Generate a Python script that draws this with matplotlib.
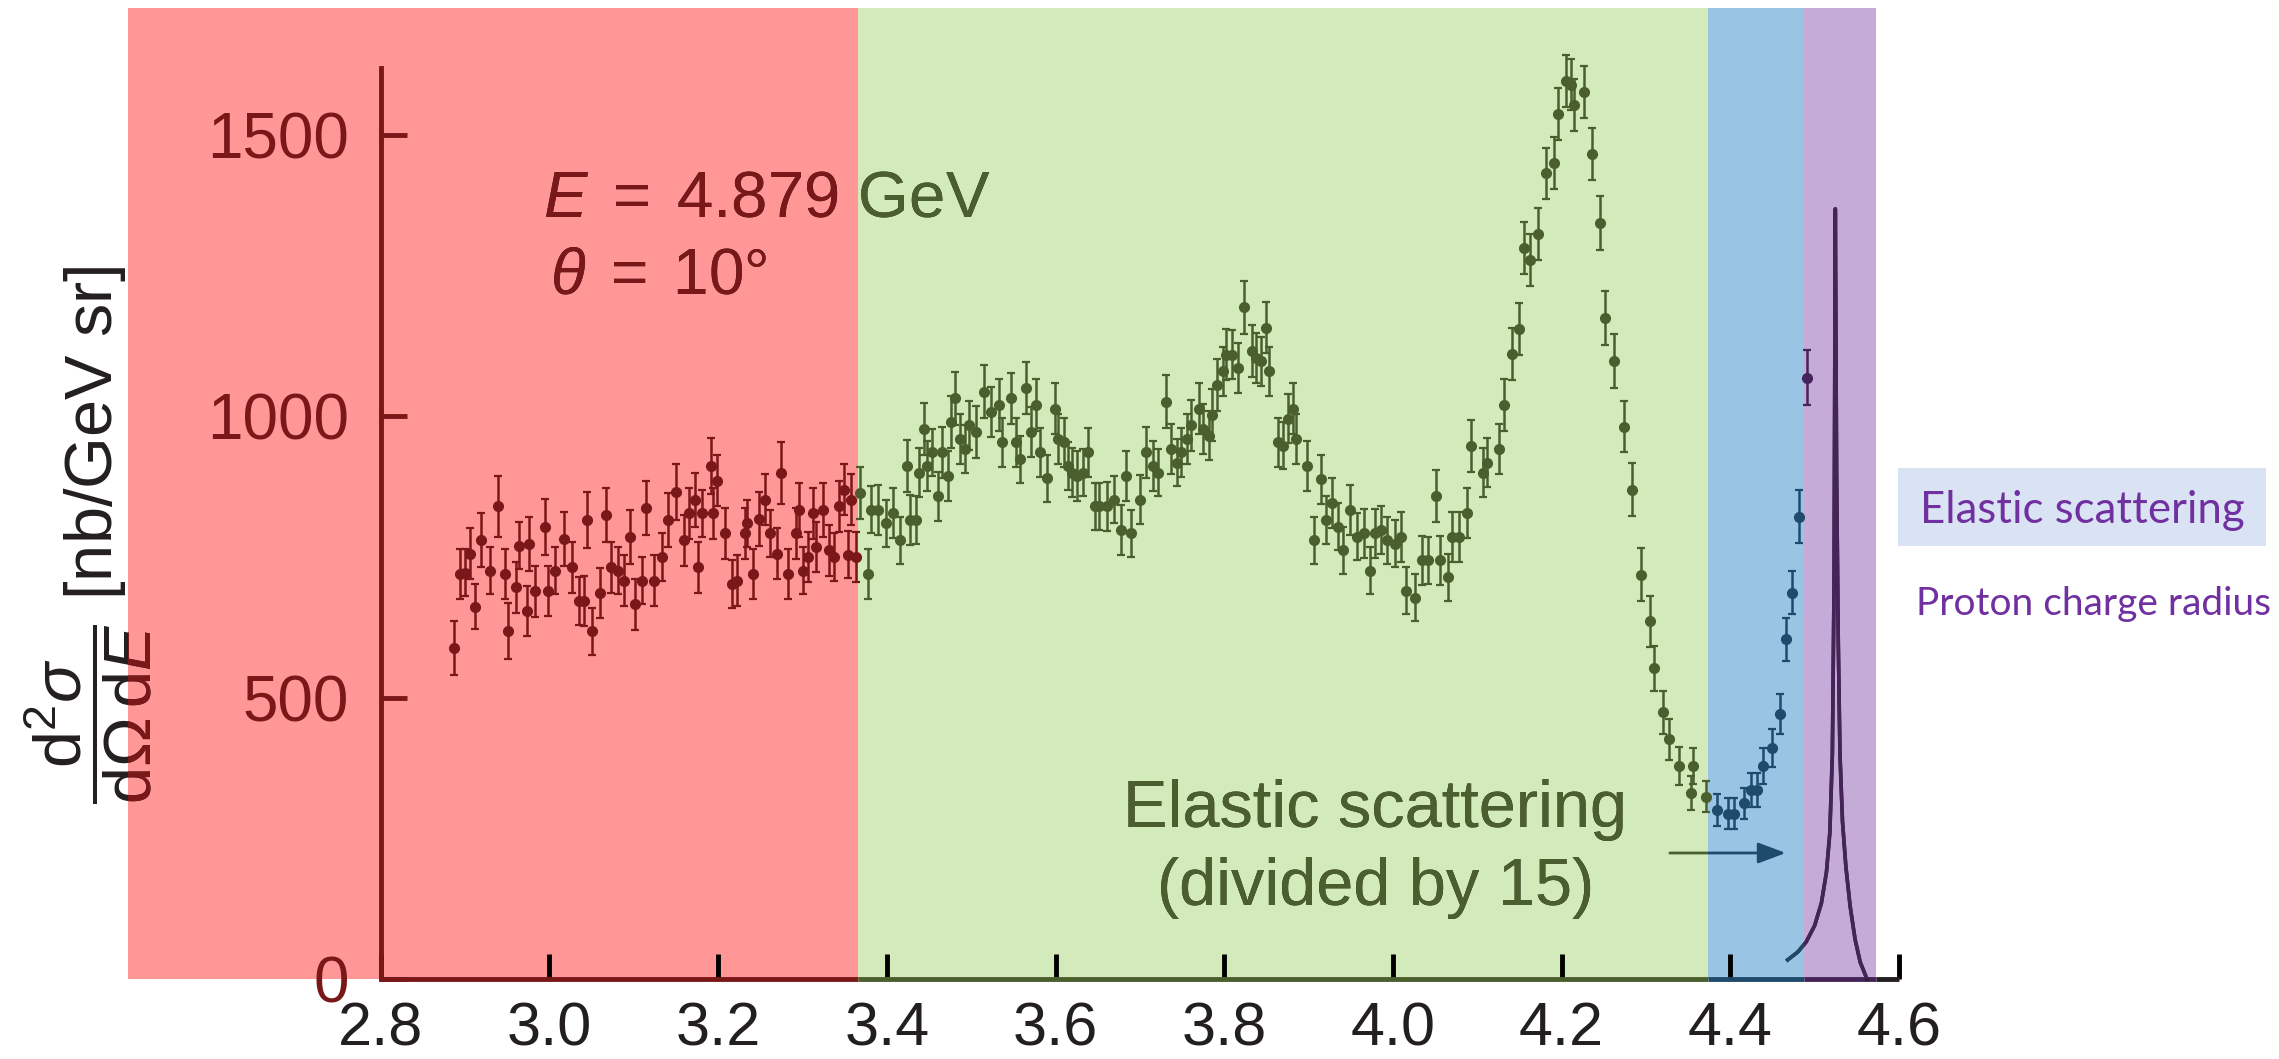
import numpy as np
import matplotlib.pyplot as plt
from matplotlib.patches import Rectangle, FancyArrowPatch

plt.rcParams['font.family'] = ['Liberation Sans', 'DejaVu Sans']
plt.rcParams['mathtext.fontset'] = 'custom'
plt.rcParams['mathtext.rm'] = 'Liberation Sans'
plt.rcParams['mathtext.it'] = 'Liberation Sans:italic'
plt.rcParams['mathtext.bf'] = 'Liberation Sans:bold'

# scattered electron energy E' (GeV) and cross-section with errors
energy = [
    2.887, 2.894, 2.900, 2.906, 2.912, 2.919, 2.930, 2.939, 2.947, 2.951, 2.960, 2.964,
    2.973, 2.976, 2.983, 2.995, 2.998, 3.007, 3.017, 3.027, 3.035, 3.041, 3.045, 3.050,
    3.060, 3.067, 3.073, 3.081, 3.088, 3.095, 3.101, 3.110, 3.114, 3.124, 3.134, 3.141,
    3.150, 3.159, 3.166, 3.173, 3.176, 3.181, 3.191, 3.194, 3.199, 3.208, 3.216, 3.222,
    3.232, 3.234, 3.241, 3.249, 3.255, 3.261, 3.270, 3.274, 3.283, 3.292, 3.296, 3.300,
    3.306, 3.312, 3.316, 3.324, 3.332, 3.337, 3.343, 3.349, 3.354, 3.357, 3.363,
    3.368, 3.378, 3.381, 3.390, 3.399, 3.407, 3.415, 3.424, 3.427, 3.434, 3.438, 3.444,
    3.448, 3.453, 3.461, 3.465, 3.472, 3.476, 3.481, 3.487, 3.493, 3.497, 3.506, 3.515,
    3.523, 3.533, 3.536, 3.547, 3.553, 3.558, 3.565, 3.571, 3.577, 3.581, 3.590, 3.599,
    3.603, 3.610, 3.615, 3.620, 3.626, 3.632, 3.639, 3.647, 3.652, 3.661, 3.669, 3.678,
    3.683, 3.690, 3.700, 3.707, 3.715, 3.722, 3.731, 3.737, 3.744, 3.749, 3.756, 3.761,
    3.770, 3.775, 3.782, 3.785, 3.792, 3.799, 3.802, 3.809, 3.816, 3.823, 3.833, 3.838,
    3.843, 3.849, 3.853, 3.864, 3.870, 3.876, 3.881, 3.885, 3.898, 3.906, 3.915, 3.921,
    3.928, 3.935, 3.941, 3.949, 3.958, 3.966, 3.973, 3.979, 3.986, 3.993, 4.003, 4.010,
    4.015, 4.026, 4.034, 4.041, 4.051, 4.056, 4.065, 4.070, 4.078, 4.088, 4.092, 4.107,
    4.112, 4.126, 4.132, 4.141, 4.150, 4.155, 4.163, 4.172, 4.182, 4.191, 4.196, 4.205,
    4.211, 4.215, 4.226, 4.236, 4.245, 4.252, 4.262, 4.274, 4.284, 4.294, 4.305, 4.310,
    4.320, 4.327, 4.339, 4.353, 4.356, 4.371, 4.384, 4.397, 4.404, 4.416, 4.425, 4.432,
    4.439, 4.449, 4.459, 4.466, 4.473, 4.482, 4.491,
]
xsec = [
    588, 720, 722, 756, 662, 780, 726, 840, 720, 618, 696, 770,
    654, 774, 689, 804, 690, 726, 782, 732, 672, 672, 816, 618,
    686, 824, 732, 726, 708, 786, 666, 708, 838, 708, 750, 816,
    866, 780, 828, 852, 732, 828, 912, 828, 886, 792, 702, 708,
    792, 810, 720, 818, 852, 792, 756, 900, 720, 792, 834, 726,
    750, 828, 768, 834, 762, 750, 840, 870, 754, 852, 750,
    864, 720, 834, 834, 810, 828, 780, 912, 816, 816, 900, 978,
    912, 936, 858, 936, 894, 990, 1032, 960, 942, 984, 972, 1044,
    1008, 1020, 954, 1032, 954, 924, 1050, 972, 1020, 936, 890, 1014,
    960, 954, 912, 900, 894, 900, 936, 840, 840, 840, 852, 798,
    894, 792, 852, 936, 912, 900, 1026, 942, 918, 936, 960, 984,
    1014, 978, 966, 1002, 1056, 1080, 1110, 1110, 1086, 1194, 1116, 1104,
    1098, 1158, 1080, 954, 948, 996, 1014, 960, 912, 780, 888, 816,
    846, 804, 762, 834, 786, 792, 726, 792, 798, 780, 774, 786,
    690, 678, 744, 744, 858, 744, 714, 786, 786, 828, 948, 900,
    918, 942, 1020, 1111, 1155, 1300, 1278, 1324, 1432, 1450, 1538, 1596,
    1590, 1553, 1577, 1466, 1344, 1175, 1098, 982, 870, 719, 636, 552,
    474, 426, 378, 330, 378, 324, 300, 294, 294, 312, 336, 336,
    378, 411, 471, 604, 687, 822, 1069,
]
xsec_err = [
    48, 45, 42, 45, 40, 48, 42, 55, 45, 50, 45, 42,
    45, 48, 45, 50, 45, 42, 48, 45, 42, 45, 50, 42,
    45, 48, 45, 42, 45, 48, 45, 42, 48, 45, 42, 48,
    50, 45, 45, 48, 45, 42, 50, 45, 45, 45, 42, 45,
    45, 42, 45, 48, 45, 42, 45, 55, 45, 45, 48, 42,
    45, 45, 45, 48, 45, 42, 45, 45, 42, 45, 45,
    46, 44, 42, 44, 42, 44, 42, 46, 44, 42, 44, 46,
    44, 42, 44, 46, 44, 46, 47, 44, 42, 44, 46, 47,
    44, 46, 44, 46, 44, 42, 46, 44, 46, 44, 42, 46,
    44, 44, 42, 44, 44, 42, 44, 42, 42, 44, 42, 44,
    44, 42, 44, 46, 44, 42, 47, 44, 42, 44, 44, 46,
    46, 44, 44, 46, 46, 44, 46, 44, 44, 47, 46, 44,
    44, 46, 44, 44, 42, 44, 46, 44, 44, 42, 44, 42,
    44, 42, 42, 44, 42, 44, 42, 44, 42, 42, 42, 44,
    42, 42, 44, 42, 46, 44, 42, 44, 44, 44, 46, 44,
    44, 44, 46, 46, 46, 46, 46, 46, 46, 46, 46, 46,
    46, 46, 46, 46, 48, 48, 48, 46, 47, 47, 45, 40,
    38, 36, 34, 30, 32, 28, 28, 28, 28, 28, 30, 30,
    32, 34, 36, 38, 39, 47, 49,
]

# elastic peak (divided by 15)
peak_e = [4.468, 4.480, 4.490, 4.500, 4.508, 4.514, 4.518, 4.521, 4.523, 4.5245,
          4.526, 4.528, 4.530, 4.533, 4.537, 4.542, 4.548, 4.554, 4.562]
peak_y = [34, 48, 66, 95, 135, 190, 260, 400, 700, 1369,
          900, 600, 400, 280, 200, 130, 70, 30, 0]

# shaded regions: deep inelastic / resonances / quasi-elastic tail / elastic
band_edges = [2.5, 3.366, 4.374, 4.487, 4.573]
band_fill = ['#ff9797', '#d3eabb', '#9ac4e4', '#c5abd8']
band_ink = ['#7a1719', '#4b5f2e', '#1e4a6c', '#45245a']
base_ink = '#231f20'

arrow_e = (4.325, 4.469)
arrow_y = 224

x_ticks = [2.8, 3.0, 3.2, 3.4, 3.6, 3.8, 4.0, 4.2, 4.4, 4.6]
y_ticks = [0, 500, 1000, 1500]
y_top = 1726

energy = np.array(energy)
xsec = np.array(xsec)
xsec_err = np.array(xsec_err)

fig = plt.figure(figsize=(22.79, 10.59), dpi=100)
ax = fig.add_axes([0.05605, 0.07554, 0.77721, 0.91690])
ax.set_xlim(2.5, 4.6)
ax.set_ylim(0, y_top)
ax.patch.set_visible(False)


def band_rect(i):
    return Rectangle((band_edges[i], 0), band_edges[i + 1] - band_edges[i], y_top,
                     transform=ax.transData)


def band_of(x):
    i = np.searchsorted(band_edges, x, side='right') - 1
    return i if 0 <= i < len(band_fill) else None


def ink_text(x, y, s, **kw):
    # plain dark text, then tinted copies clipped to each coloured band
    ax.text(x, y, s, color=base_ink, **kw)
    for i, ink in enumerate(band_ink):
        t = ax.text(x, y, s, color=ink, **kw)
        t.set_clip_path(band_rect(i))
        t.set_clip_on(True)


for i, fill in enumerate(band_fill):
    ax.axvspan(band_edges[i], band_edges[i + 1], color=fill, lw=0, zorder=0)

# data points, tinted by the band they sit in
idx = np.array([band_of(e) for e in energy])
for i, ink in enumerate(band_ink):
    m = idx == i
    ax.errorbar(energy[m], xsec[m], yerr=xsec_err[m], fmt='o', ms=7, color=ink,
                ecolor=ink, elinewidth=1.8, capsize=2.8, capthick=1.6, zorder=3)

# elastic peak curve
base = ax.plot(peak_e, peak_y, color=base_ink, lw=2.6, zorder=3)[0]
base.set_clip_on(False)
for i, ink in enumerate(band_ink):
    ln = ax.plot(peak_e, peak_y, color=ink, lw=2.6, zorder=3)[0]
    ln.set_clip_path(band_rect(i))

# arrow pointing to the elastic peak
for i, ink in enumerate(band_ink):
    arr = FancyArrowPatch((arrow_e[0], arrow_y), (arrow_e[1], arrow_y),
                          arrowstyle='-|>,head_length=0.85,head_width=0.32',
                          mutation_scale=20, color=ink, lw=2.0, zorder=3)
    ax.add_patch(arr)
    arr.set_clip_path(band_rect(i))

# axes
for s in ['top', 'right', 'bottom']:
    ax.spines[s].set_visible(False)
ax.spines['left'].set_position(('data', 2.8))
ax.spines['left'].set_bounds(0, 1620)
ax.spines['left'].set_color(band_ink[0])
ax.spines['left'].set_linewidth(3.5)

seg = [2.8] + band_edges[1:] + [4.6]
seg_colors = band_ink + [base_ink]
ax.hlines([0] * (len(seg) - 1), seg[:-1], seg[1:], colors=seg_colors,
          linewidth=3.5, clip_on=False, zorder=2.5)

ax.set_xticks(x_ticks)
ax.set_xticklabels([f'{t:.1f}' for t in x_ticks])
ax.set_yticks(y_ticks)
ax.tick_params(axis='x', direction='in', length=18, width=3.5, pad=16,
               labelsize=44, labelcolor=base_ink)
ax.tick_params(axis='y', direction='in', length=19, width=3.5, pad=23,
               labelsize=46, labelcolor=band_ink[0], color=band_ink[0])
for t, v in zip(ax.xaxis.get_major_ticks(), x_ticks):
    b = band_of(v)
    t.tick1line.set_color(base_ink if b is None else band_ink[b])

ink_text(0.039, 0.495, r'$\dfrac{\mathrm{d}^2\sigma}{\mathrm{d}\Omega\,\mathrm{d}E}$ [nb/GeV sr]',
         transform=fig.transFigure, rotation=90, ha='center', va='center', fontsize=48)

ink_text(2.992, 1356, r'$E\;=\;4.879$ GeV', fontsize=47, ha='left', va='baseline')
ink_text(3.001, 1218, r'$\theta\;=\;10$°', fontsize=46, ha='left', va='baseline')
ink_text(3.979, 270, 'Elastic scattering', fontsize=48, ha='center', va='baseline')
ink_text(3.979, 131, '(divided by 15)', fontsize=48, ha='center', va='baseline')

# side annotations
fig.patches.append(Rectangle((0.8328, 0.4844), 0.1615, 0.0737, transform=fig.transFigure,
                             facecolor='#dae3f3', edgecolor='none'))
fig.text(0.8425, 0.5061, 'Elastic scattering', family='Lato', fontsize=31.5,
         color='#7030a0', ha='left', va='baseline')
fig.text(0.8407, 0.4197, 'Proton charge radius', family='Lato', fontsize=28,
         color='#7030a0', ha='left', va='baseline')

fig.savefig('out.png', dpi=100)
